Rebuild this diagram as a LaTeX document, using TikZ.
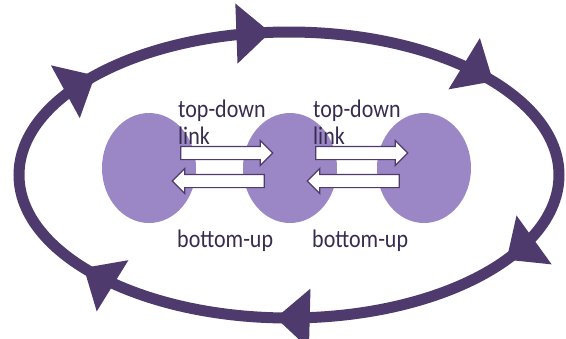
\documentclass[tikz,border=0pt]{standalone}
\usepackage{fontspec}
\usepackage{graphicx}
\setmainfont{Carlito}
\usetikzlibrary{arrows.meta,decorations.markings,shapes.geometric,shapes.arrows}
\definecolor{ringcol}{HTML}{4E3A6C}
\definecolor{blobcol}{HTML}{9B87C6}
\definecolor{textcol}{HTML}{372C50}
\newcommand{\tall}[1]{\scalebox{1}[1.15]{#1}}
\begin{document}
\begin{tikzpicture}[x=1pt,y=-1pt,
		blob/.style={ellipse,fill=blobcol,minimum width=94pt,minimum height=110pt,inner sep=0},
		linkarrow/.style={single arrow,draw=ringcol,fill=white,line width=1.2pt,minimum height=92pt,
			inner sep=0,inner ysep=6pt,single arrow head extend=6pt},
		lbl/.style={anchor=base west,inner sep=0,text=textcol,font=\fontsize{22}{24}\selectfont},
		ringtip/.style={decoration={mark=at position #1 with {\arrow[ringcol]{Triangle[length=34pt,width=58pt]}}}}]
	\useasboundingbox (0,0) rectangle (566,338);
	% outer cycle
	\draw[draw=ringcol,line width=11pt,decoration=markings,
		ringtip=0.078,ringtip=0.26,ringtip=0.411,ringtip=0.599,ringtip=0.736,ringtip=0.91,
		postaction={decorate}]
		(289,175) ellipse [x radius=270, y radius=143];
	% the three levels
	\node[blob] (n1) at (149,168) {};
	\node[blob] (n2) at (290,168) {};
	\node[blob] (n3) at (424,168) {};
	% links between them
	\node[linkarrow] (td1) at (223.5,153) {};
	\node[linkarrow,shape border rotate=180] (bu1) at (221.5,181) {};
	\node[linkarrow] (td2) at (358.5,153) {};
	\node[linkarrow,shape border rotate=180] (bu2) at (356.5,181) {};
	\node[lbl] (td1t) at (178,117) {\tall{top-down}};
	\node[lbl] (lk1t) at (178,144) {\tall{link}};
	\node[lbl] (bu1t) at (177,247) {\tall{bottom-up}};
	\node[lbl] (td2t) at (313,117) {\tall{top-down}};
	\node[lbl] (lk2t) at (313,144) {\tall{link}};
	\node[lbl] (bu2t) at (312,247) {\tall{bottom-up}};
\end{tikzpicture}
\end{document}
